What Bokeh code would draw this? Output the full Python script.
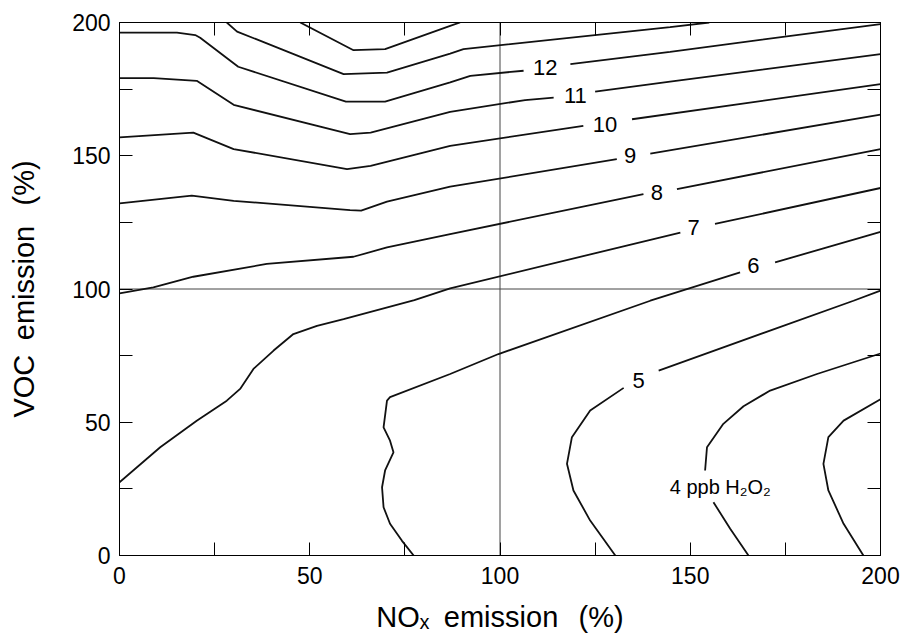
import math
from bokeh.plotting import figure
from bokeh.models import Range1d, FixedTicker, LinearAxis, Span
from bokeh.core.properties import value
from bokeh.embed import file_html
from bokeh.resources import INLINE

nan = float("nan")

# ---- axis ticks ----
major_ticks = [0, 50, 100, 150, 200]
minor_ticks = [25, 75, 125, 175]
ref_nox = 100   # 100 % NOx reference line
ref_voc = 100   # 100 % VOC reference line

# ---- contour lines (NOx %, VOC %); nan = gap where the label sits ----
lvl14_x = [47.5, 61.5, 69.8, 86.9, 89.5]
lvl14_y = [200.0, 189.6, 190.0, 198.7, 200.0]

lvl13_x = [28.2, 30.9, 58.9, 70.3, 86.9, 90.4, 144.7, 155.0]
lvl13_y = [200.0, 196.6, 180.6, 181.2, 188.3, 190.0, 198.3, 200.0]

lvl12_x = [0, 15.1, 19.9, 21.2, 31.2, 59.5, 69.8, 86.9, 92.2, 106.2, nan, 118.5, 144.7, 200]
lvl12_y = [196.2, 196.2, 195.3, 194.3, 183.4, 170.3, 170.3, 177.5, 180.0, 181.9, nan, 184.4, 189.0, 199.4]

lvl11_x = [0, 9.0, 20.3, 30.0, 60.6, 66.0, 86.9, 106.6, 114.1, nan, 125.0, 144.7, 200]
lvl11_y = [179.1, 179.1, 178.1, 169.1, 158.1, 158.7, 166.5, 170.9, 171.8, nan, 174.1, 177.8, 188.1]

lvl10_x = [0, 19.4, 30.0, 59.8, 66.0, 86.9, 121.9, nan, 134.7, 200]
lvl10_y = [156.9, 158.7, 152.5, 145.0, 146.2, 153.7, 161.2, nan, 163.7, 176.9]

lvl9_x = [0, 19.0, 30.0, 60.6, 63.5, 70.3, 86.9, 130.7, nan, 139.5, 200]
lvl9_y = [132.1, 135.0, 133.1, 129.6, 129.4, 132.8, 138.4, 148.7, nan, 150.8, 165.4]

lvl8_x = [0, 8.9, 19.4, 38.7, 61.5, 70.3, 86.9, 137.7, nan, 146.5, 200]
lvl8_y = [98.4, 100.6, 104.6, 109.4, 112.1, 115.6, 120.6, 135.6, nan, 137.5, 152.5]

lvl7_x = [0, 10.7, 20.3, 28.2, 31.7, 35.2, 40.5, 45.7, 51.9, 58.9, 77.5, 86.9, 147.4, nan, 156.5, 200]
lvl7_y = [27.5, 40.6, 50.6, 58.1, 62.5, 70.0, 76.9, 83.1, 86.2, 88.7, 95.8, 100.2, 121.2, nan, 124.4, 137.9]

lvl6_x = [77.3, 74.2, 71.1, 69.4, 69.0, 69.8, 72.0, 71.1, 69.4, 70.3, 71.1, 86.9, 99.6, 139.5, 163.1, nan, 172.3, 200]
lvl6_y = [0, 5.6, 11.9, 18.1, 25.6, 31.9, 38.7, 43.1, 48.1, 58.1, 59.4, 68.1, 75.6, 95.6, 106.2, nan, 110.0, 121.4]

lvl5_x = [130.3, 123.7, 119.3, 117.6, 118.9, 123.7, 132.5, nan, 141.7, 192.9, 200]
lvl5_y = [0, 13.1, 24.4, 34.4, 44.4, 54.4, 62.9, nan, 69.4, 95.6, 99.4]

lvl4_x = [165.3, 160.5, 156.1, nan, 153.9, 154.4, 158.7, 164.0, 171.0, 183.3, 200]
lvl4_y = [0, 10.0, 20.0, nan, 31.9, 40.6, 49.4, 56.0, 61.9, 68.1, 75.8]

lvl3_x = [195.5, 190.3, 186.3, 185.0, 186.3, 190.3, 200]
lvl3_y = [0, 11.9, 24.4, 34.4, 44.4, 50.6, 58.6]

# ---- contour labels ----
label_text = ["12", "11", "10", "9", "8", "7", "6", "5"]
label_x = [111.9, 119.8, 127.6, 134.2, 141.2, 150.9, 166.6, 136.4]
label_y = [183.1, 172.5, 161.9, 150.0, 136.2, 123.1, 108.7, 65.6]

unit_text = ["4 ppb H\u2082O\u2082"]
unit_x = [157.9]
unit_y = [25.6]

FONT = "Liberation Sans"

p = figure(width=904, height=637, output_backend="svg", toolbar_location=None,
           x_range=Range1d(0, 200), y_range=Range1d(0, 200),
           min_border_left=119, min_border_right=24, min_border_top=22, min_border_bottom=82,
           background_fill_color="white", border_fill_color="white")
p.grid.visible = False
p.outline_line_color = "black"
p.outline_line_width = 1


def style_axis(ax, show_labels):
    ax.ticker = FixedTicker(ticks=major_ticks, minor_ticks=minor_ticks)
    ax.major_tick_in = 13
    ax.major_tick_out = 0
    ax.minor_tick_in = 13
    ax.minor_tick_out = 0
    ax.axis_line_color = "black"
    ax.major_tick_line_color = "black"
    ax.minor_tick_line_color = "black"
    if show_labels:
        ax.major_label_text_font = FONT
        ax.major_label_text_font_size = "23px"
        ax.major_label_text_color = "black"
        ax.axis_label_text_font = FONT
        ax.axis_label_text_font_size = "29px"
        ax.axis_label_text_font_style = "normal"
        ax.axis_label_text_color = "black"
    else:
        ax.major_label_overrides = {t: "" for t in major_ticks}
        ax.major_label_standoff = 0


xa = p.xaxis[0]
ya = p.yaxis[0]
style_axis(xa, True)
style_axis(ya, True)
xa.axis_label = "NO\u2093\u2002emission\u2002\u2009(%)"
ya.axis_label = "VOC\u2002emission\u2002\u2009(%)"
xa.major_label_standoff = 11
xa.axis_label_standoff = 14
ya.major_label_standoff = 9
ya.axis_label_standoff = 29

top = LinearAxis()
style_axis(top, False)
p.add_layout(top, "above")
right = LinearAxis()
style_axis(right, False)
p.add_layout(right, "right")

# reference lines
p.add_layout(Span(location=ref_nox, dimension="height", line_color="#444444", line_width=1, level="underlay"))
p.add_layout(Span(location=ref_voc, dimension="width", line_color="#444444", line_width=1, level="underlay"))

contours = [(lvl14_x, lvl14_y), (lvl13_x, lvl13_y), (lvl12_x, lvl12_y), (lvl11_x, lvl11_y),
            (lvl10_x, lvl10_y), (lvl9_x, lvl9_y), (lvl8_x, lvl8_y), (lvl7_x, lvl7_y),
            (lvl6_x, lvl6_y), (lvl5_x, lvl5_y), (lvl4_x, lvl4_y), (lvl3_x, lvl3_y)]
for cx, cy in contours:
    p.line(cx, cy, line_color="#111111", line_width=1.8)

p.text(x=label_x, y=label_y, text=label_text, text_font=value(FONT), text_font_size="22px",
       text_align="center", text_baseline="middle", text_color="black")
p.text(x=unit_x, y=unit_y, text=unit_text, text_font=value(FONT), text_font_size="20px",
       text_align="center", text_baseline="middle", text_color="black")

open("out.html", "w").write(file_html(p, INLINE))
